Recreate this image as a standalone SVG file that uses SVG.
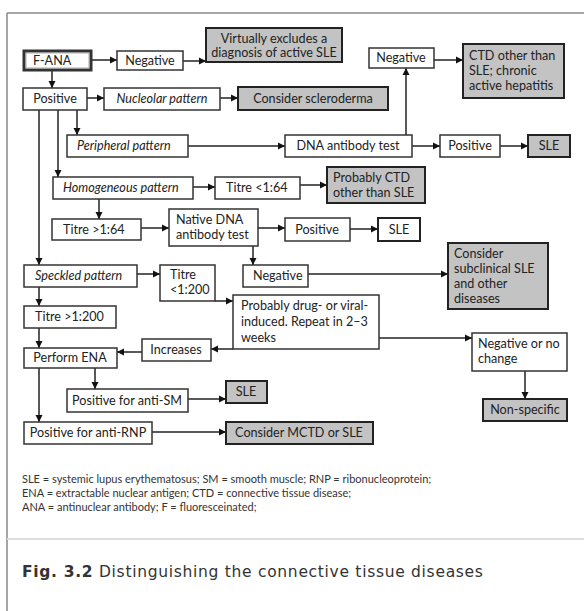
<svg xmlns="http://www.w3.org/2000/svg" width="584" height="611" viewBox="0 0 584 611">
<defs>
<marker id="ah" markerUnits="userSpaceOnUse" markerWidth="8" markerHeight="8" refX="7" refY="4" orient="auto">
<path d="M0,0.5 L7,4 L0,7.5 Z" fill="#111"/>
</marker>
<style>
.b{fill:#fff;stroke:#333;stroke-width:1.5}
.g{fill:#c3c3c3;stroke:#222;stroke-width:2}
.t{font-family:Lato,"Liberation Sans",sans-serif;font-size:12.6px;fill:#222}
.i{font-style:italic}
.c{stroke:#222;stroke-width:1.5;fill:none;marker-end:url(#ah)}
.fn{font-family:Lato,"Liberation Sans",sans-serif;font-size:11px;fill:#333}
.cap{font-family:"DejaVu Sans",Verdana,sans-serif;font-size:15.5px;fill:#333;letter-spacing:0.7px}
</style>
</defs>
<rect width="584" height="611" fill="#fff"/>
<g id="frame">
<line x1="7" y1="13" x2="584" y2="13" stroke="#888" stroke-width="1.5"/>
<line x1="7" y1="13" x2="7" y2="611" stroke="#888" stroke-width="1.5"/>
<line x1="7" y1="539" x2="584" y2="539" stroke="#ddd" stroke-width="2"/>
</g>
<g id="connectors">
<line class="c" x1="91" y1="60" x2="117" y2="60"/>
<line class="c" x1="183" y1="61" x2="206" y2="61"/>
<line class="c" x1="52" y1="70" x2="52" y2="88"/>
<line class="c" x1="87" y1="98" x2="104" y2="98"/>
<line class="c" x1="220" y1="98" x2="238" y2="98"/>
<line class="c" x1="77" y1="110" x2="77" y2="135"/>
<line class="c" x1="58" y1="110" x2="58" y2="177"/>
<line class="c" x1="39" y1="110" x2="39" y2="265"/>
<line class="c" x1="188" y1="146" x2="285" y2="146"/>
<line class="c" x1="406" y1="135" x2="406" y2="68"/>
<line class="c" x1="434" y1="60" x2="463" y2="60"/>
<line class="c" x1="412" y1="146" x2="440" y2="146"/>
<line class="c" x1="500" y1="146" x2="528" y2="146"/>
<line class="c" x1="193" y1="187" x2="215" y2="187"/>
<line class="c" x1="300" y1="185" x2="327" y2="185"/>
<line class="c" x1="99" y1="199" x2="99" y2="219"/>
<line class="c" x1="141" y1="228" x2="169" y2="228"/>
<line class="c" x1="258" y1="228" x2="285" y2="228"/>
<line class="c" x1="350" y1="229" x2="378" y2="229"/>
<line class="c" x1="253" y1="246" x2="253" y2="265"/>
<line class="c" x1="308" y1="274" x2="448" y2="274"/>
<line class="c" x1="137" y1="274" x2="160" y2="274"/>
<line class="c" x1="215" y1="301" x2="233" y2="301"/>
<line class="c" x1="39" y1="287" x2="39" y2="306"/>
<line class="c" x1="39" y1="328" x2="39" y2="348"/>
<line class="c" x1="233" y1="349" x2="211" y2="349"/>
<line class="c" x1="142" y1="352" x2="117" y2="352"/>
<line class="c" x1="379" y1="338" x2="472" y2="338"/>
<line class="c" x1="525" y1="371" x2="525" y2="399"/>
<line class="c" x1="95" y1="368" x2="95" y2="389"/>
<line class="c" x1="39" y1="368" x2="39" y2="422"/>
<line class="c" x1="188" y1="399" x2="226" y2="399"/>
<line class="c" x1="152" y1="432" x2="226" y2="432"/>
</g>
<g id="fana"><rect x="24" y="51" width="67" height="19" fill="#fff" stroke="#333" stroke-width="3"/><rect x="26" y="53" width="63" height="15" fill="none" stroke="#999" stroke-width="0.8"/><text class="t" x="33" y="65">F-ANA</text></g>
<g id="neg1"><rect class="b" x="117" y="51" width="66" height="19"/><text class="t" x="150" y="65" text-anchor="middle">Negative</text></g>
<g id="virt"><rect class="g" x="206" y="28" width="136" height="34"/><text class="t" x="274" y="43" text-anchor="middle">Virtually excludes a</text><text class="t" x="274" y="57" text-anchor="middle">diagnosis of active SLE</text></g>
<g id="pos1"><rect class="b" x="23" y="88" width="64" height="22"/><text class="t" x="55" y="103" text-anchor="middle">Positive</text></g>
<g id="nucleolar"><rect class="b" x="104" y="88" width="116" height="22"/><text class="t i" x="162" y="103" text-anchor="middle">Nucleolar pattern</text></g>
<g id="sclero"><rect class="g" x="238" y="87" width="150" height="23"/><text class="t" x="313" y="103" text-anchor="middle">Consider scleroderma</text></g>
<g id="peripheral"><rect class="b" x="67" y="135" width="121" height="22"/><text class="t i" x="77" y="150">Peripheral pattern</text></g>
<g id="dna"><rect class="b" x="285" y="135" width="127" height="22"/><text class="t" x="348" y="150" text-anchor="middle">DNA antibody test</text></g>
<g id="neg2"><rect class="b" x="369" y="48" width="65" height="20"/><text class="t" x="401" y="62" text-anchor="middle">Negative</text></g>
<g id="ctd"><rect class="g" x="463" y="44" width="101" height="54"/><text class="t" x="469" y="60">CTD other than</text><text class="t" x="469" y="75">SLE; chronic</text><text class="t" x="469" y="90">active hepatitis</text></g>
<g id="pos2"><rect class="b" x="440" y="135" width="60" height="22"/><text class="t" x="470" y="150" text-anchor="middle">Positive</text></g>
<g id="sle1"><rect class="g" x="528" y="135" width="42" height="22"/><text class="t" x="549" y="150" text-anchor="middle">SLE</text></g>
<g id="homog"><rect class="b" x="53" y="177" width="140" height="22"/><text class="t i" x="63" y="192">Homogeneous pattern</text></g>
<g id="titre64lt"><rect class="b" x="215" y="177" width="85" height="22"/><text class="t" x="226" y="192">Titre &lt;1:64</text></g>
<g id="probctd"><rect class="g" x="327" y="167" width="98" height="36"/><text class="t" x="333" y="182">Probably CTD</text><text class="t" x="333" y="197">other than SLE</text></g>
<g id="titre64gt"><rect class="b" x="52" y="219" width="89" height="21"/><text class="t" x="63" y="234">Titre &gt;1:64</text></g>
<g id="native"><rect class="b" x="169" y="209" width="89" height="37"/><text class="t" x="176" y="224">Native DNA</text><text class="t" x="176" y="239">antibody test</text></g>
<g id="pos3"><rect class="b" x="285" y="218" width="65" height="23"/><text class="t" x="317" y="234" text-anchor="middle">Positive</text></g>
<g id="sle2"><rect x="378" y="218" width="42" height="23" fill="#fff" stroke="#222" stroke-width="2"/><text class="t" x="399" y="234" text-anchor="middle">SLE</text></g>
<g id="neg3"><rect class="b" x="243" y="265" width="65" height="22"/><text class="t" x="253" y="280">Negative</text></g>
<g id="subcl"><rect class="g" x="448" y="243" width="100" height="66"/><text class="t" x="454" y="258">Consider</text><text class="t" x="454" y="273">subclinical SLE</text><text class="t" x="454" y="288">and other</text><text class="t" x="454" y="303">diseases</text></g>
<g id="speckled"><rect class="b" x="24" y="265" width="113" height="22"/><text class="t i" x="35" y="280">Speckled pattern</text></g>
<g id="titre200lt"><rect class="b" x="160" y="265" width="55" height="36"/><text class="t" x="170" y="279">Titre</text><text class="t" x="170" y="294">&lt;1:200</text></g>
<g id="drug"><rect class="b" x="233" y="295" width="146" height="54"/><text class="t" x="241" y="310">Probably drug- or viral-</text><text class="t" x="241" y="326">induced. Repeat in 2–3</text><text class="t" x="241" y="342">weeks</text></g>
<g id="titre200gt"><rect class="b" x="24" y="306" width="92" height="22"/><text class="t" x="35" y="321">Titre &gt;1:200</text></g>
<g id="increases"><rect class="b" x="142" y="339" width="69" height="22"/><text class="t" x="176" y="354" text-anchor="middle">Increases</text></g>
<g id="ena"><rect class="b" x="24" y="348" width="93" height="20"/><text class="t" x="70" y="362" text-anchor="middle">Perform ENA</text></g>
<g id="negnochange"><rect class="b" x="472" y="333" width="95" height="38"/><text class="t" x="478" y="348">Negative or no</text><text class="t" x="478" y="363">change</text></g>
<g id="nonspec"><rect class="g" x="483" y="399" width="84" height="22"/><text class="t" x="525" y="414" text-anchor="middle">Non-specific</text></g>
<g id="antism"><rect class="b" x="67" y="389" width="121" height="23"/><text class="t" x="127" y="405" text-anchor="middle">Positive for anti-SM</text></g>
<g id="sle3"><rect class="g" x="226" y="381" width="41" height="22"/><text class="t" x="246" y="396" text-anchor="middle">SLE</text></g>
<g id="antirnp"><rect class="b" x="24" y="422" width="128" height="22"/><text class="t" x="88" y="437" text-anchor="middle">Positive for anti-RNP</text></g>
<g id="mctd"><rect class="g" x="226" y="422" width="147" height="22"/><text class="t" x="299" y="437" text-anchor="middle">Consider MCTD or SLE</text></g>
<g id="footnote">
<text class="fn" x="22" y="483">SLE = systemic lupus erythematosus; SM = smooth muscle; RNP = ribonucleoprotein;</text>
<text class="fn" x="22" y="497">ENA = extractable nuclear antigen; CTD = connective tissue disease;</text>
<text class="fn" x="22" y="511">ANA = antinuclear antibody; F = fluoresceinated;</text>
</g>
<g id="caption"><text class="cap" x="22" y="577"><tspan font-weight="bold">Fig. 3.2</tspan> Distinguishing the connective tissue diseases</text></g>
</svg>
